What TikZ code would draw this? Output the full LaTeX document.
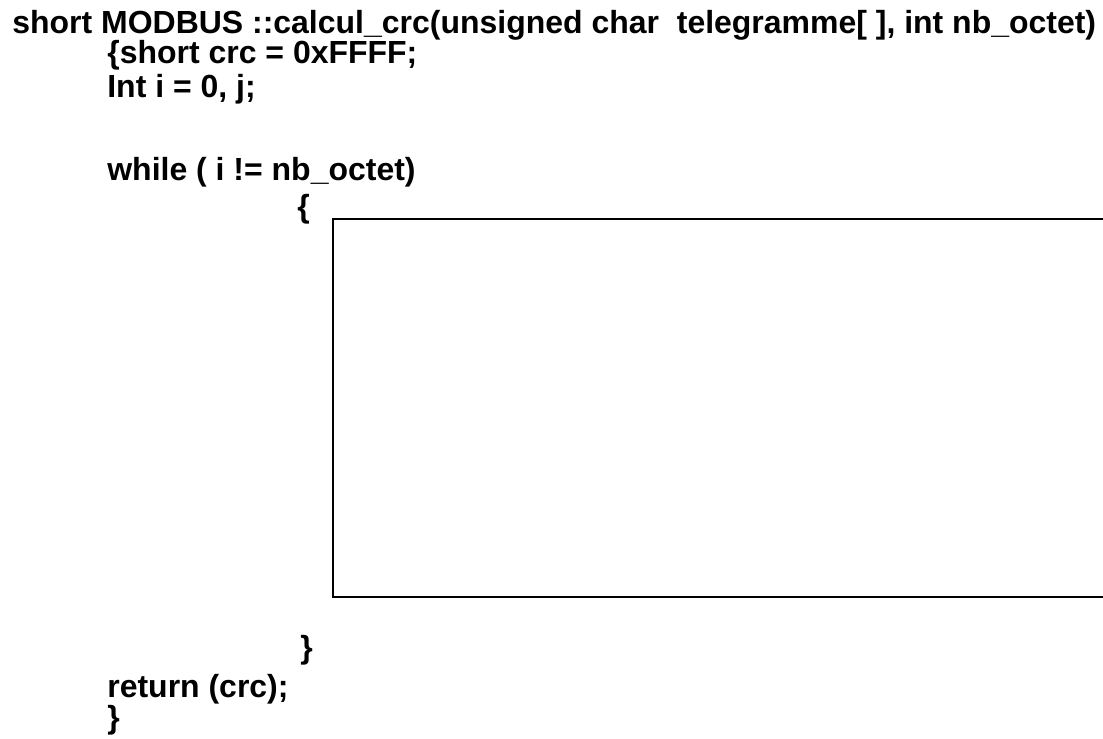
\documentclass[tikz,border=0pt]{standalone}
\usepackage{fontspec}
\setmainfont{Liberation Sans}

\tikzset{codeline/.style={anchor=base west, inner sep=0pt, font=\fontsize{18.2}{20}\selectfont\bfseries}}

\begin{document}
\begin{tikzpicture}[x=0.02cm,y=-0.02cm]

\useasboundingbox (0,0) rectangle (1103,738);

\coordinate (tl) at (333,219) {};
\coordinate (tr) at (1103,219) {};
\coordinate (bl) at (333,597) {};
\coordinate (br) at (1103,597) {};

%loop body box
\draw [line width=1.1pt]	(tr)--(tl)--(bl)--(br);	 %open on the right

%code lines
\node[codeline] (sig)    at (12,33)  {short MODBUS ::calcul\_crc(unsigned char\ \ telegramme[ ], int nb\_octet)};
\node[codeline] (decl)   at (107,63) {\{short crc = 0xFFFF;};
\node[codeline] (init)   at (107,97) {Int i = 0, j;};
%
\node[codeline] (loop)   at (107,180) {while ( i != nb\_octet)};
\node[codeline] (open)   at (297,217) {\{};
\node[codeline] (close)  at (300,658) {\}};
%
\node[codeline] (ret)    at (107,697) {return (crc);};
\node[codeline] (end)    at (107,728) {\}};

\end{tikzpicture}
\end{document}
